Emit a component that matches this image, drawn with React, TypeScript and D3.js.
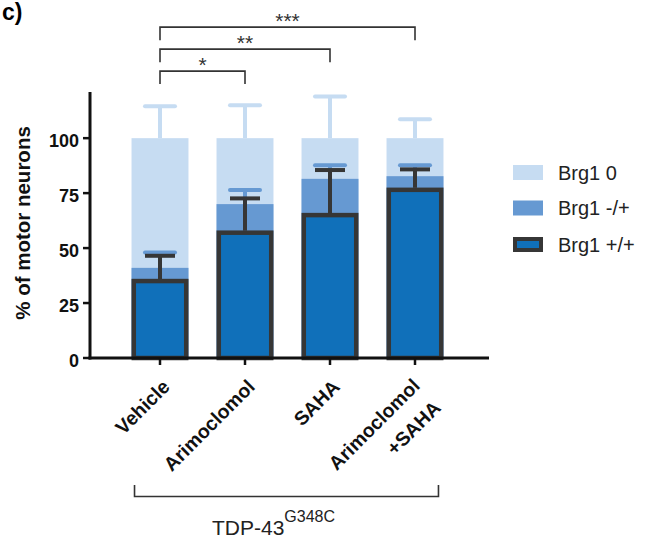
import * as d3 from 'd3'
import React, { useEffect, useRef } from 'react'

// treatment groups (x axis), multi-line labels
const categories = ['Vehicle', 'Arimoclomol', 'SAHA', 'Arimoclomol +SAHA']
const categoryLines = [['Vehicle'], ['Arimoclomol'], ['SAHA'], ['Arimoclomol', '+SAHA']]

// % of motor neurons per Brg1 class (stacked to 100)
const brg1PosPos = [35, 57, 65, 76.5]
const brg1NegPos = [6, 13, 16.5, 6.2]
const brg1Zero = [59, 30, 18.5, 17.3]

// upward SD for each class, measured from the top of its stack
const errPosPos = [11.5, 15.6, 20.5, 9.3]
const errNegPos = [7, 6.4, 6.2, 5]
const errZero = [14.5, 15, 19, 8.6]

const yTicks = [0, 25, 50, 75, 100]

const comparisons = [
  { from: 0, to: 1, label: '*' },
  { from: 0, to: 2, label: '**' },
  { from: 0, to: 3, label: '***' },
]

const legendLabels = ['Brg1 0', 'Brg1 -/+', 'Brg1 +/+']

const FONT = 'Liberation Sans, Arial, sans-serif'
const LIGHT = '#c6dcf2'
const MID = '#6699d2'
const DARK = '#1070ba'
const OUTLINE = '#363636'

const App = () => {
  const ref = useRef<SVGSVGElement>(null)

  useEffect(() => {
    if (!ref.current) return
    const svg = d3.select(ref.current)
    svg.selectAll('*').remove()

    const data = categories.map((c, i) => ({
      cat: c,
      pp: brg1PosPos[i],
      np: brg1NegPos[i],
      zero: brg1Zero[i],
    }))
    const series = d3.stack<any>().keys(['pp', 'np', 'zero'])(data)
    const errs = [errPosPos, errNegPos, errZero]

    const x = d3
      .scaleBand()
      .domain(categories)
      .range([117.5, 457.5])
      .paddingInner(0.33)
      .paddingOuter(0.165)
    const y = d3.scaleLinear().domain([0, 121]).range([358, 92])
    const bw = x.bandwidth()
    const cx = (c: string) => (x(c) as number) + bw / 2
    const capW = 30

    const g = svg.append('g')

    // bars, drawn back to front: Brg1 0, Brg1 -/+, Brg1 +/+
    const fills = [DARK, MID, LIGHT]
    for (let k = 2; k >= 0; k--) {
      const s = series[k]
      const layer = g.append('g')
      if (k === 0) {
        layer
          .selectAll('rect')
          .data(s)
          .join('rect')
          .attr('x', (d) => (x(d.data.cat) as number) + 2.25)
          .attr('width', bw - 4.5)
          .attr('y', (d) => y(d[1]))
          .attr('height', (d) => y(0) - y(d[1]))
          .attr('fill', DARK)
          .attr('stroke', OUTLINE)
          .attr('stroke-width', 4.5)
      } else {
        layer
          .selectAll('rect')
          .data(s)
          .join('rect')
          .attr('x', (d) => x(d.data.cat) as number)
          .attr('width', bw)
          .attr('y', (d) => y(d[1]))
          .attr('height', (d) => y(0) - y(d[1]))
          .attr('fill', fills[k])
      }
      // error bars (upward only)
      const color = k === 0 ? OUTLINE : fills[k]
      s.forEach((d, i) => {
        const c = cx(d.data.cat)
        const top = y(d[1] + errs[k][i])
        layer
          .append('line')
          .attr('x1', c)
          .attr('x2', c)
          .attr('y1', y(d[1]) - (k === 0 ? 2 : 0))
          .attr('y2', top)
          .attr('stroke', color)
          .attr('stroke-width', 4)
        layer
          .append('line')
          .attr('x1', c - capW / 2)
          .attr('x2', c + capW / 2)
          .attr('y1', top)
          .attr('y2', top)
          .attr('stroke', color)
          .attr('stroke-width', 4)
          .attr('stroke-linecap', k === 0 ? 'butt' : 'round')
      })
    }

    // y axis
    const ya = svg.append('g')
    ya.append('line').attr('x1', 90).attr('x2', 90).attr('y1', y(121)).attr('y2', y(0) + 1.5)
      .attr('stroke', '#111').attr('stroke-width', 3)
    yTicks.forEach((t) => {
      ya.append('line').attr('x1', 83).attr('x2', 90).attr('y1', y(t)).attr('y2', y(t))
        .attr('stroke', '#111').attr('stroke-width', 2.5)
      ya.append('text').attr('x', 79).attr('y', y(t) + 8.5).attr('text-anchor', 'end')
        .attr('font-family', FONT).attr('font-weight', 'bold').attr('font-size', 18).attr('fill', '#111')
        .text(t)
    })
    svg.append('text')
      .attr('transform', `translate(30,${(y(0) + y(121)) / 2 - 2}) rotate(-90)`)
      .attr('text-anchor', 'middle')
      .attr('font-family', FONT).attr('font-weight', 'bold').attr('font-size', 20.5).attr('fill', '#111')
      .text('% of motor neurons')

    // x axis
    const xa = svg.append('g')
    xa.append('line').attr('x1', 88.5).attr('x2', 489).attr('y1', y(0)).attr('y2', y(0))
      .attr('stroke', '#111').attr('stroke-width', 3)
    categories.forEach((c, i) => {
      xa.append('line').attr('x1', cx(c)).attr('x2', cx(c)).attr('y1', y(0)).attr('y2', y(0) + 7)
        .attr('stroke', '#111').attr('stroke-width', 2.5)
      const lines = categoryLines[i]
      lines.forEach((ln, j) => {
        const offX = lines.length > 1 ? (j === 0 ? 6 : 27) : 11
        const offY = lines.length > 1 ? (j === 0 ? 29 : 51) : 30
        xa.append('text')
          .attr('transform', `translate(${cx(c) + offX},${y(0) + offY}) rotate(-45)`)
          .attr('text-anchor', 'end')
          .attr('font-family', FONT).attr('font-weight', 'bold').attr('font-size', 19.5).attr('fill', '#111')
          .text(ln)
      })
    })

    // significance brackets
    comparisons.forEach((cmp, i) => {
      const by = y(130.5 + i * 10)
      const x1 = cx(categories[cmp.from])
      const x2 = cx(categories[cmp.to])
      svg.append('path')
        .attr('d', `M${x1},${by + 13}V${by}H${x2}V${by + 13}`)
        .attr('fill', 'none').attr('stroke', '#333').attr('stroke-width', 1.6)
      svg.append('text').attr('x', (x1 + x2) / 2).attr('y', by + 1).attr('text-anchor', 'middle')
        .attr('font-family', FONT).attr('font-size', 21).attr('fill', '#333')
        .text(cmp.label)
    })

    // group bracket
    const gx1 = (x(categories[0]) as number) + 3
    const gx2 = (x(categories[categories.length - 1]) as number) + bw - 5
    svg.append('path')
      .attr('d', `M${gx1},485V496.5H${gx2}V485`)
      .attr('fill', 'none').attr('stroke', '#333').attr('stroke-width', 1.6)
    const tdp = svg.append('text').attr('x', 212).attr('y', 535)
      .attr('font-family', FONT).attr('font-size', 21).attr('fill', '#222')
    tdp.append('tspan').text('TDP-43')
    tdp.append('tspan').attr('font-size', 16).attr('dy', -13).text('G348C')

    // legend
    const legendFills = [LIGHT, MID, DARK]
    const rowY = [172.5, 208, 244.5]
    legendLabels.forEach((lab, i) => {
      const r = svg.append('rect').attr('x', 513).attr('y', rowY[i] - 7.5).attr('width', 30).attr('height', 15)
        .attr('fill', legendFills[i])
      if (i === 2) {
        r.attr('x', 515).attr('y', rowY[i] - 5.5).attr('width', 26).attr('height', 11)
          .attr('stroke', OUTLINE).attr('stroke-width', 4)
      }
      svg.append('text').attr('x', 558).attr('y', rowY[i] + 7)
        .attr('font-family', FONT).attr('font-size', 20).attr('fill', '#222')
        .text(lab)
    })

    // panel label
    svg.append('text').attr('x', 2).attr('y', 20)
      .attr('font-family', FONT).attr('font-weight', 'bold').attr('font-size', 23).attr('fill', '#000')
      .text('c)')
  }, [])

  return (
    <svg
      ref={ref}
      width={653}
      height={546}
      style={{ position: 'absolute', left: 0, top: 0, background: '#fff' }}
    />
  )
}

export default App
